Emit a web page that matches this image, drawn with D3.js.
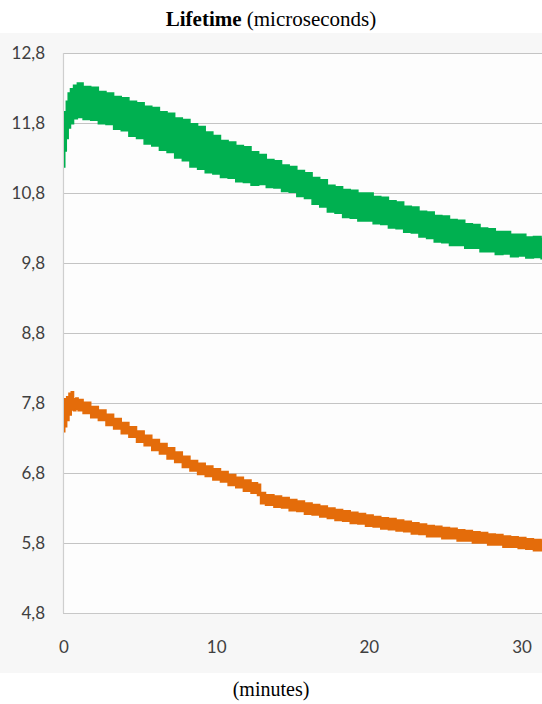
<!DOCTYPE html>
<html>
<head>
<meta charset="utf-8">
<script src="https://cdn.jsdelivr.net/npm/d3@7"></script>
<style>
  body { margin: 0; background: #fff; }
  svg { display: block; }
</style>
</head>
<body>
<div id="chart"></div>
<script>
/*************** DATA ***************/
// lower / upper edge of each noisy band (microseconds) vs time (minutes)

const yTicks = [4.8, 5.8, 6.8, 7.8, 8.8, 9.8, 10.8, 11.8, 12.8];
const xTicks = [0, 10, 20, 30];

const greenTime = [0, 0.1, 0.2, 0.35, 0.5, 0.75, 1, 1.5, 2, 2.5, 3, 3.5, 4, 4.5, 5, 5.5, 6, 6.5, 7, 7.5,
  8, 8.5, 9, 9.5, 10, 10.5, 11, 11.5, 12, 12.5, 13, 13.5, 14, 14.5, 15, 15.5, 16, 16.5, 17, 17.5,
  18, 18.5, 19, 19.5, 20, 20.5, 21, 21.5, 22, 22.5, 23, 23.5, 24, 24.5, 25, 25.5, 26, 26.5, 27, 27.5,
  28, 28.5, 29, 29.5, 30, 30.5, 31, 31.5];
const greenLow = [11.17, 11.40, 11.58, 11.73, 11.79, 11.86, 11.88, 11.85, 11.84, 11.79, 11.78, 11.71, 11.69, 11.61, 11.58, 11.50, 11.47, 11.41, 11.38, 11.30,
  11.26, 11.17, 11.14, 11.09, 11.07, 11.02, 11.01, 10.96, 10.95, 10.91, 10.92, 10.88, 10.87, 10.82, 10.81, 10.75, 10.72, 10.64, 10.60, 10.53,
  10.51, 10.45, 10.44, 10.40, 10.40, 10.36, 10.35, 10.30, 10.29, 10.24, 10.23, 10.17, 10.15, 10.10, 10.09, 10.05, 10.05, 10.01, 10.01, 9.96,
  9.96, 9.92, 9.93, 9.89, 9.90, 9.87, 9.88, 9.86];
const greenHigh = [11.48, 11.96, 12.11, 12.23, 12.29, 12.34, 12.37, 12.32, 12.31, 12.25, 12.23, 12.18, 12.16, 12.11, 12.09, 12.04, 12.02, 11.96, 11.94, 11.87,
  11.85, 11.79, 11.75, 11.67, 11.62, 11.55, 11.53, 11.48, 11.46, 11.39, 11.35, 11.28, 11.26, 11.20, 11.18, 11.12, 11.09, 11.02, 10.99, 10.91,
  10.89, 10.85, 10.84, 10.80, 10.80, 10.75, 10.74, 10.69, 10.67, 10.61, 10.60, 10.54, 10.53, 10.48, 10.47, 10.42, 10.41, 10.36, 10.35, 10.30,
  10.29, 10.25, 10.25, 10.21, 10.21, 10.17, 10.18, 10.15];

const orangeTime = [0, 0.1, 0.25, 0.4, 0.55, 0.7, 0.85, 1, 1.5, 2, 2.5, 3, 3.5, 4, 4.5, 5, 5.5, 6, 6.5, 7, 7.5,
  8, 8.5, 9, 9.5, 10, 10.5, 11, 11.5, 12, 12.5, 12.85, 12.9, 13.5, 14, 14.5, 15, 15.5, 16, 16.5, 17, 17.5,
  18, 18.5, 19, 19.5, 20, 20.5, 21, 21.5, 22, 22.5, 23, 23.5, 24, 24.5, 25, 25.5, 26, 26.5, 27, 27.5,
  28, 28.5, 29, 29.5, 30, 30.5, 31, 31.5];
const orangeLow = [7.39, 7.46, 7.55, 7.63, 7.70, 7.69, 7.71, 7.69, 7.65, 7.59, 7.55, 7.48, 7.43, 7.36, 7.31, 7.24, 7.19, 7.12, 7.07, 7.00, 6.95,
  6.88, 6.83, 6.78, 6.75, 6.70, 6.67, 6.62, 6.59, 6.54, 6.51, 6.48, 6.36, 6.34, 6.31, 6.30, 6.26, 6.25, 6.21, 6.20, 6.17, 6.15,
  6.12, 6.11, 6.08, 6.07, 6.04, 6.03, 6.00, 5.99, 5.97, 5.96, 5.93, 5.92, 5.89, 5.89, 5.86, 5.86, 5.83, 5.83, 5.80, 5.80,
  5.77, 5.77, 5.74, 5.74, 5.72, 5.71, 5.69, 5.69];
const orangeHigh = [7.80, 7.86, 7.89, 7.94, 7.96, 7.86, 7.87, 7.85, 7.81, 7.75, 7.70, 7.64, 7.58, 7.52, 7.46, 7.40, 7.34, 7.28, 7.22, 7.16, 7.10,
  7.04, 6.98, 6.94, 6.90, 6.86, 6.82, 6.78, 6.74, 6.70, 6.66, 6.64, 6.52, 6.49, 6.47, 6.45, 6.42, 6.40, 6.37, 6.35, 6.33, 6.30,
  6.28, 6.26, 6.24, 6.22, 6.20, 6.18, 6.16, 6.15, 6.13, 6.11, 6.09, 6.07, 6.05, 6.04, 6.02, 6.01, 5.99, 5.98, 5.96, 5.95,
  5.93, 5.92, 5.90, 5.89, 5.88, 5.86, 5.85, 5.84];

/*************** CHART ***************/
const width = 542;
const height = 704;
const plot = { left: 63, right: 542, top: 53, bottom: 613 };

const svg = d3.select('#chart')
  .append('svg')
  .attr('width', width)
  .attr('height', height);

// light grey chart background, plot area a touch whiter
svg.append('rect')
  .attr('x', 0).attr('y', 33)
  .attr('width', width).attr('height', 640)
  .attr('fill', '#f7f7f7');
svg.append('rect')
  .attr('x', plot.left).attr('y', plot.top)
  .attr('width', plot.right - plot.left).attr('height', plot.bottom - plot.top)
  .attr('fill', '#fdfdfd');

const x = d3.scaleLinear().domain([0, 30]).range([64, 522]);
const y = d3.scaleLinear().domain([4.8, 12.8]).range([plot.bottom, plot.top]);

// horizontal grid lines
svg.append('g')
  .selectAll('line')
  .data(yTicks)
  .enter()
  .append('line')
  .attr('x1', plot.left)
  .attr('x2', plot.right)
  .attr('y1', d => Math.round(y(d)) + 0.5)
  .attr('y2', d => Math.round(y(d)) + 0.5)
  .attr('stroke', d => d == 4.8 ? '#c8c8c8' : '#c4c4c4')
  .attr('stroke-width', 1.2);

// vertical axis line
svg.append('line')
  .attr('x1', plot.left + 0.5).attr('x2', plot.left + 0.5)
  .attr('y1', plot.top).attr('y2', plot.bottom)
  .attr('stroke', '#cfcfcf')
  .attr('stroke-width', 1.2);

// y tick labels
svg.append('g')
  .selectAll('text')
  .data(yTicks)
  .enter()
  .append('text')
  .attr('x', 45)
  .attr('y', d => y(d))
  .attr('dy', '0.36em')
  .attr('text-anchor', 'end')
  .style('font-family', 'Lato, "Open Sans", sans-serif')
  .style('font-size', '17px')
  .attr('fill', '#404040')
  .text(d => d3.format('.1f')(d).replace('.', ','));

// x tick labels
svg.append('g')
  .selectAll('text')
  .data(xTicks)
  .enter()
  .append('text')
  .attr('x', d => x(d))
  .attr('y', 653)
  .attr('text-anchor', 'middle')
  .style('font-family', 'Lato, "Open Sans", sans-serif')
  .style('font-size', '17px')
  .attr('fill', '#404040')
  .text(d => d);

// clip the bands to the plot area
svg.append('defs')
  .append('clipPath')
  .attr('id', 'plot-clip')
  .append('rect')
  .attr('x', plot.left + 1).attr('y', plot.top)
  .attr('width', plot.right - plot.left).attr('height', plot.bottom - plot.top);

function band(time, low, high) {
  return time.map((t, i) => ({ t: t, lo: low[i], hi: high[i] }));
}

// stepped edges mimic the blocky square markers of the original
const area = d3.area()
  .curve(d3.curveStep)
  .x(d => x(d.t))
  .y0(d => y(d.lo))
  .y1(d => y(d.hi));

const series = [
  { data: band(greenTime, greenLow, greenHigh), colour: '#00b050' },
  { data: band(orangeTime, orangeLow, orangeHigh), colour: '#e46c0a' }
];

svg.append('g')
  .attr('clip-path', 'url(#plot-clip)')
  .selectAll('path')
  .data(series)
  .enter()
  .append('path')
  .attr('d', d => area(d.data))
  .attr('fill', d => d.colour)
  .attr('stroke', d => d.colour)
  .attr('stroke-width', 1.5)
  .attr('stroke-linejoin', 'miter');

// titles
const title = svg.append('text')
  .attr('x', width / 2)
  .attr('y', 26)
  .attr('text-anchor', 'middle')
  .style('font-family', '"Liberation Serif", "Times New Roman", serif')
  .style('font-size', '21px')
  .attr('fill', '#000');
title.append('tspan').style('font-weight', 'bold').text('Lifetime');
title.append('tspan').text(' (microseconds)');

svg.append('text')
  .attr('x', width / 2)
  .attr('y', 696)
  .attr('text-anchor', 'middle')
  .style('font-family', '"Liberation Serif", "Times New Roman", serif')
  .style('font-size', '20px')
  .attr('fill', '#000')
  .text('(minutes)');
</script>
</body>
</html>
